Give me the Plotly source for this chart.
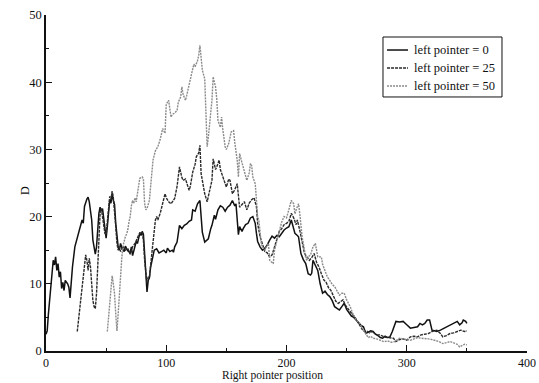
import plotly.graph_objects as go

# D statistic versus right pointer position, for three left pointer settings.
# Each series is a list of (right pointer position, D) pairs.
left0_pts = [
    (0, 2.5), (1, 3.0), (2, 5.5), (4, 9.5), (5, 11.5), (6, 13.5), (7, 12.8), (8, 14.0),
    (9, 12.0), (10, 13.0), (11, 11.0), (12, 11.8), (13, 9.3), (14, 10.2), (15, 9.0),
    (16, 10.5), (18, 10.0), (19, 9.5), (20, 7.9), (21, 10.5), (22, 12.5), (24, 15.5),
    (26, 16.8), (28, 18.5), (30, 19.5), (31, 19.0), (32, 21.5), (34, 22.6), (35, 22.9),
    (36, 22.2), (37, 21.0), (38, 19.5), (39, 16.5), (40, 15.0), (41, 14.4), (42, 15.5),
    (43, 18.5), (44, 20.5), (45, 21.4), (46, 20.8), (47, 21.2), (48, 19.5), (49, 18.2),
    (50, 16.8), (51, 18.5), (52, 20.5), (53, 22.5), (54, 22.0), (55, 23.5), (56, 22.4),
    (57, 21.8), (58, 19.0), (59, 16.5), (60, 15.5), (61, 15.0), (62, 16.0), (63, 15.4),
    (65, 14.8), (66, 15.6), (68, 14.9), (70, 14.6), (71, 15.5), (72, 14.2), (74, 15.8),
    (75, 16.3), (76, 16.0), (78, 17.5), (79, 17.2), (80, 17.8), (81, 17.4), (82, 14.5),
    (83, 10.5), (84, 8.8), (85, 10.5), (86, 10.9), (87, 12.5), (88, 13.3), (89, 14.5),
    (90, 15.0), (92, 15.2), (94, 14.6), (96, 14.8), (98, 15.0), (100, 14.6), (101, 15.3),
    (103, 14.8), (105, 15.0), (106, 14.7), (107, 15.5), (109, 16.2), (110, 17.5),
    (111, 18.7), (113, 18.2), (115, 18.7), (117, 18.9), (119, 19.3), (121, 19.5),
    (122, 21.0), (124, 20.8), (126, 21.9), (128, 22.4), (129, 19.5), (130, 17.7),
    (132, 16.2), (134, 16.5), (135, 16.7), (137, 18.2), (138, 18.7), (140, 20.2),
    (141, 19.6), (143, 21.0), (145, 21.6), (147, 21.4), (149, 20.8), (151, 21.4),
    (153, 21.7), (155, 22.4), (157, 21.6), (158, 21.9), (159, 19.5), (160, 17.3),
    (161, 18.5), (163, 17.8), (164, 18.2), (166, 18.8), (168, 19.0), (170, 19.8),
    (172, 20.0), (174, 19.0), (175, 17.5), (176, 16.3), (178, 15.5), (180, 15.0),
    (182, 15.3), (184, 15.8), (186, 16.5), (188, 17.1), (190, 16.8), (192, 17.2),
    (194, 17.0), (196, 17.6), (198, 18.0), (200, 18.3), (202, 18.5), (204, 19.5),
    (205, 18.8), (207, 17.5), (209, 17.2), (210, 17.0), (212, 14.5), (214, 13.6),
    (216, 13.0), (218, 11.5), (220, 11.3), (221, 11.6), (222, 13.5), (224, 12.8),
    (226, 12.0), (228, 10.0), (230, 8.6), (232, 8.9), (234, 8.4), (236, 8.1), (238, 7.5),
    (240, 6.6), (242, 6.3), (244, 6.1), (246, 6.6), (248, 7.1), (250, 6.2), (252, 5.6),
    (254, 5.2), (256, 5.0), (258, 4.6), (260, 4.3), (262, 3.8), (264, 3.6), (266, 2.6),
    (268, 2.8), (270, 3.0), (272, 2.9), (274, 2.5), (276, 2.3), (278, 2.0), (280, 1.9),
    (282, 2.2), (284, 2.0), (286, 2.1), (288, 2.9), (289, 3.4), (291, 4.4), (294, 4.3),
    (297, 4.4), (300, 3.9), (303, 3.4), (306, 3.5), (309, 3.6), (311, 4.1), (313, 3.9),
    (315, 4.1), (317, 4.6), (319, 4.6), (321, 3.1), (323, 3.0), (325, 2.9), (328, 3.1),
    (331, 3.4), (334, 3.6), (336, 3.9), (339, 4.1), (342, 4.4), (344, 3.9), (346, 4.2),
    (347, 4.6), (349, 4.4), (350, 4.1),
]

left25_pts = [
    (26, 2.9), (27, 4.5), (28, 6.5), (29, 8.5), (30, 10.2), (31, 11.0), (32, 12.5),
    (33, 14.3), (34, 13.5), (35, 12.0), (36, 13.8), (37, 12.5), (38, 10.0), (39, 7.5),
    (40, 6.6), (41, 6.3), (42, 8.5), (43, 13.0), (44, 17.5), (45, 20.5), (46, 21.2),
    (47, 20.0), (48, 19.0), (49, 17.5), (50, 17.3), (51, 19.5), (52, 21.5), (53, 23.0),
    (54, 22.5), (55, 23.8), (56, 22.8), (57, 21.0), (58, 18.5), (59, 16.0), (60, 15.0),
    (61, 15.5), (62, 14.8), (64, 15.6), (66, 15.0), (68, 15.3), (70, 14.4), (72, 15.5),
    (74, 16.0), (76, 16.8), (78, 17.6), (80, 17.6), (81, 16.5), (82, 13.5), (83, 11.0),
    (84, 10.0), (85, 11.0), (86, 11.0), (88, 14.5), (90, 17.5), (91, 19.5), (92, 20.0),
    (93, 19.5), (95, 20.5), (97, 21.9), (99, 23.4), (100, 22.8), (102, 22.2), (104, 21.9),
    (106, 22.4), (107, 22.7), (109, 24.5), (111, 27.4), (113, 25.8), (114, 25.4),
    (116, 25.6), (117, 24.9), (119, 23.9), (120, 24.5), (122, 26.6), (124, 27.8),
    (125, 28.9), (127, 29.5), (128, 30.6), (129, 26.4), (131, 24.5), (132, 23.4),
    (134, 22.2), (136, 23.8), (138, 25.4), (139, 28.6), (141, 27.0), (142, 27.4),
    (144, 28.4), (145, 27.0), (147, 25.9), (149, 25.0), (150, 24.4), (152, 25.6),
    (153, 25.4), (155, 23.4), (157, 24.0), (159, 24.9), (160, 22.5), (161, 21.4),
    (163, 21.8), (165, 22.2), (167, 21.0), (169, 22.0), (171, 22.5), (173, 22.8),
    (175, 21.5), (176, 19.0), (178, 17.0), (180, 15.8), (182, 14.8), (184, 14.6),
    (186, 14.0), (188, 14.3), (190, 15.5), (192, 16.8), (194, 17.8), (196, 18.2),
    (198, 18.8), (200, 19.0), (202, 19.3), (204, 20.5), (206, 19.8), (208, 18.8),
    (209, 19.5), (211, 18.0), (213, 16.0), (215, 14.5), (217, 14.0), (219, 13.5),
    (221, 13.9), (223, 14.5), (225, 13.2), (227, 12.5), (229, 11.5), (231, 10.6),
    (233, 10.2), (235, 9.4), (237, 9.0), (239, 8.1), (241, 7.4), (243, 7.1), (245, 7.3),
    (247, 7.6), (249, 6.8), (251, 6.3), (253, 5.8), (255, 5.4), (257, 5.0), (259, 4.3),
    (261, 3.8), (263, 3.2), (265, 2.9), (267, 3.0), (269, 2.7), (271, 2.9), (273, 2.6),
    (275, 2.4), (278, 2.4), (281, 2.1), (284, 2.0), (287, 1.9), (289, 1.9), (291, 1.4),
    (294, 1.7), (297, 1.8), (300, 1.6), (303, 2.1), (306, 2.2), (309, 2.1), (312, 2.4),
    (315, 2.5), (318, 2.6), (321, 2.9), (323, 3.0), (325, 3.1), (328, 2.6), (330, 2.1),
    (333, 2.3), (336, 2.6), (339, 2.7), (342, 2.9), (345, 3.1), (348, 2.9), (350, 3.0),
]

left50_pts = [
    (51, 2.9), (52, 5.0), (53, 8.0), (54, 10.0), (55, 11.2), (56, 10.0), (57, 8.5),
    (58, 5.5), (59, 3.0), (60, 5.5), (61, 8.5), (62, 11.5), (63, 13.8), (64, 15.6),
    (65, 16.5), (66, 17.0), (67, 17.4), (68, 18.0), (69, 19.2), (70, 20.0), (71, 21.6),
    (72, 22.4), (73, 22.0), (74, 22.8), (75, 22.2), (76, 23.5), (77, 25.2), (78, 25.7),
    (79, 25.8), (80, 25.9), (81, 25.6), (82, 22.0), (83, 21.0), (84, 21.2), (85, 21.8),
    (86, 22.4), (87, 24.5), (88, 26.2), (89, 28.4), (91, 29.8), (93, 30.4), (95, 31.5),
    (97, 33.1), (99, 32.4), (100, 36.8), (101, 37.0), (102, 37.3), (103, 36.0),
    (104, 34.8), (105, 35.2), (107, 35.4), (109, 35.8), (110, 37.0), (112, 37.8),
    (113, 39.3), (114, 38.2), (116, 37.3), (117, 38.0), (119, 39.8), (120, 40.5),
    (121, 41.2), (123, 42.7), (124, 42.3), (126, 43.2), (127, 44.0), (128, 45.5),
    (129, 43.0), (130, 41.8), (132, 40.5), (133, 36.0), (134, 30.4), (135, 31.8),
    (136, 34.3), (137, 35.5), (138, 37.3), (139, 40.8), (140, 40.0), (141, 39.3),
    (142, 37.5), (143, 34.3), (145, 33.3), (146, 34.8), (147, 33.0), (149, 30.4),
    (150, 30.0), (152, 30.9), (154, 32.6), (156, 32.8), (157, 31.0), (159, 28.4),
    (160, 25.9), (161, 29.4), (163, 28.0), (164, 27.4), (166, 26.0), (167, 25.4),
    (169, 26.5), (170, 27.9), (171, 27.6), (172, 25.9), (174, 24.9), (175, 22.4),
    (176, 20.0), (177, 19.5), (178, 17.5), (179, 16.0), (180, 15.5), (182, 15.0),
    (184, 15.8), (185, 16.0), (186, 13.5), (188, 13.2), (189, 13.0), (190, 15.0),
    (192, 16.5), (193, 17.0), (195, 18.6), (196, 19.2), (198, 20.0), (200, 19.8),
    (201, 20.4), (203, 21.5), (204, 22.4), (206, 21.9), (207, 20.4), (208, 21.0),
    (210, 21.9), (211, 20.5), (212, 18.5), (213, 17.0), (215, 15.0), (216, 13.8),
    (217, 13.5), (218, 14.0), (220, 14.3), (222, 15.5), (224, 16.0), (225, 15.0),
    (226, 14.0), (228, 14.0), (229, 14.0), (230, 12.9), (232, 11.8), (234, 11.0),
    (236, 10.5), (238, 9.9), (240, 9.6), (242, 9.0), (244, 8.3), (246, 8.6), (248, 8.6),
    (250, 7.6), (252, 7.0), (253, 6.6), (255, 5.6), (257, 5.0), (258, 4.6), (260, 4.3),
    (261, 4.1), (263, 3.4), (264, 3.1), (266, 2.4), (268, 2.0), (270, 2.2), (272, 1.9),
    (275, 1.8), (278, 1.6), (281, 1.4), (284, 1.5), (287, 1.3), (290, 1.4), (292, 1.6),
    (294, 1.9), (297, 1.8), (300, 1.7), (303, 1.6), (306, 1.8), (309, 2.0), (312, 1.9),
    (315, 1.9), (318, 1.8), (321, 1.7), (324, 1.6), (327, 1.4), (330, 1.1), (333, 1.2),
    (336, 1.4), (339, 1.2), (342, 1.0), (344, 0.6), (346, 0.8), (348, 1.0), (350, 0.9),
]

series_names = ["left pointer = 0", "left pointer = 25", "left pointer = 50"]
x_tick_vals = [0, 100, 200, 300, 400]
y_tick_vals = [0, 10, 20, 30, 40, 50]

SERIF = "Liberation Serif, Times New Roman, serif"
INK = "#111111"

styles = [
    dict(color="#111111", width=1.5, dash="solid"),
    dict(color="#2a2a2a", width=1.4, dash="3px,1px"),
    dict(color="#8a8a8a", width=1.4, dash="2px,1px"),
]

fig = go.Figure()
for name, pts, st in zip(series_names, [left0_pts, left25_pts, left50_pts], styles):
    xs, ys = zip(*pts)
    fig.add_trace(go.Scatter(x=list(xs), y=list(ys), mode="lines", name=name,
                             line=dict(**st), showlegend=False))

axis_common = dict(
    showgrid=False, zeroline=False, showline=True, linecolor=INK, linewidth=1.5,
    ticks="inside", ticklen=6, tickwidth=1.2, tickcolor=INK,
    minor=dict(ticks="inside", ticklen=3, tickwidth=1, tickcolor=INK),
    mirror=False, automargin=False,
)

fig.update_xaxes(range=[0, 400], tickvals=x_tick_vals,
                 tickfont=dict(family=SERIF, size=12, color=INK), **axis_common)
fig.update_xaxes(minor_dtick=50, minor_tick0=0)
fig.update_yaxes(range=[0, 50], tickvals=y_tick_vals,
                 tickfont=dict(family=SERIF, size=12.5, color=INK), **axis_common)
fig.update_yaxes(minor_dtick=5, minor_tick0=0)

# Boxed key in the upper right of the plotting area
box_x0, box_x1, box_y0, box_y1 = 0.7006, 0.948, 0.756, 0.9345
sample_x0, sample_x1, label_x = 0.709, 0.7526, 0.761
row_y = [0.8958, 0.8423, 0.7887]

shapes = [dict(type="rect", xref="paper", yref="paper",
               x0=box_x0, x1=box_x1, y0=box_y0, y1=box_y1,
               line=dict(color=INK, width=1), fillcolor="white", layer="above")]
annotations = []
for name, st, yy in zip(series_names, styles, row_y):
    shapes.append(dict(type="line", xref="paper", yref="paper",
                       x0=sample_x0, x1=sample_x1, y0=yy, y1=yy,
                       line=dict(color=st["color"], width=st["width"], dash=st["dash"]),
                       layer="above"))
    annotations.append(dict(xref="paper", yref="paper", x=label_x, y=yy,
                            xanchor="left", yanchor="middle", showarrow=False,
                            text=name, font=dict(family=SERIF, size=12.5, color=INK)))

# Axis titles
annotations.append(dict(xref="paper", yref="paper", x=0.47, y=-0.0952,
                        xanchor="center", yanchor="bottom", showarrow=False,
                        borderpad=0, text="Right pointer position",
                        font=dict(family=SERIF, size=11.5, color=INK)))
annotations.append(dict(xref="paper", yref="paper", x=-0.044, y=0.479,
                        xanchor="center", yanchor="middle", showarrow=False,
                        text="D", textangle=-90,
                        font=dict(family=SERIF, size=12, color=INK)))

fig.update_layout(
    width=539, height=383,
    margin=dict(l=46, r=12, t=15, b=32),
    paper_bgcolor="white", plot_bgcolor="white",
    font=dict(family=SERIF, size=12, color=INK),
    shapes=shapes, annotations=annotations, showlegend=False,
)

fig.write_html("out.html")
